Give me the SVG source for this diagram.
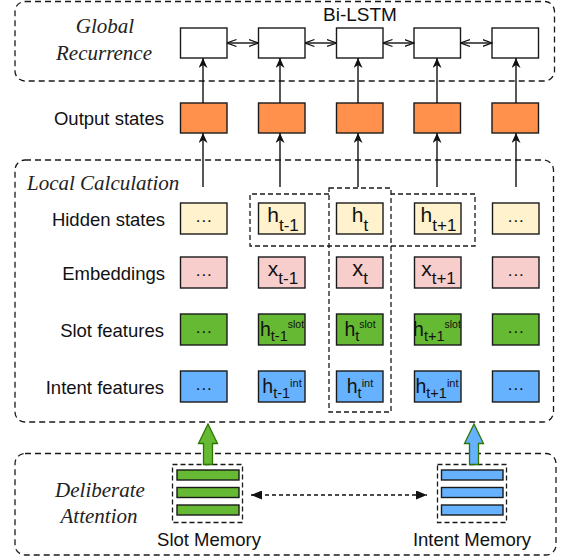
<svg xmlns="http://www.w3.org/2000/svg" width="563" height="560" viewBox="0 0 563 560">
<defs>
<style>
.grp{fill:none;stroke:#1a1a1a;stroke-width:1.3;stroke-dasharray:6 4}
.sgrp{fill:none;stroke:#1a1a1a;stroke-width:1.3;stroke-dasharray:5 3}
.box{stroke:#1a1a1a;stroke-width:1.4}
.lstm{fill:#ffffff}
.out{fill:#FF914D}
.hid{fill:#FFF2CC}
.emb{fill:#F8CECC}
.slot{fill:#66B933}
.int{fill:#66B2FF}
.lbl{font-family:"Liberation Sans",Arial,sans-serif;font-size:18.5px;fill:#111;text-anchor:end}
.ttl{font-family:"Liberation Serif","Times New Roman",serif;font-style:italic;font-size:21px;fill:#222}
.mem{font-family:"Liberation Sans",Arial,sans-serif;font-size:18.5px;fill:#111;text-anchor:middle}
.bt{font-family:"Liberation Sans",Arial,sans-serif;fill:#111;text-anchor:middle}
.dots{font-size:17px;letter-spacing:1px}
.line{fill:none;stroke:#111;stroke-width:1.4}
.dline{fill:none;stroke:#111;stroke-width:1.3;stroke-dasharray:4 3}
.blk{stroke:#2D7600;stroke-width:1.3}
</style>
<marker id="stealth" viewBox="0 0 10 9" refX="10" refY="4.5" markerWidth="10" markerHeight="9" markerUnits="userSpaceOnUse" orient="auto">
<path d="M0,0 L10,4.5 L0,9 L3,4.5 Z" fill="#111"/>
</marker>
<marker id="open" viewBox="0 0 10 10" refX="9.5" refY="5" markerWidth="10" markerHeight="10" markerUnits="userSpaceOnUse" orient="auto-start-reverse">
<path d="M0,1.5 L9.5,5 L0,8.5" fill="none" stroke="#111" stroke-width="1.3"/>
</marker>
<marker id="tri" viewBox="0 0 11 9" refX="11" refY="4.5" markerWidth="11" markerHeight="9" markerUnits="userSpaceOnUse" orient="auto-start-reverse">
<path d="M0,0 L11,4.5 L0,9 Z" fill="#111"/>
</marker>
</defs>

<g id="global-recurrence">
<rect class="grp" x="15" y="1.5" width="539.5" height="79.5" rx="10"/>
<text class="ttl" x="105" y="33" text-anchor="middle">Global</text>
<text class="ttl" x="104" y="60" text-anchor="middle">Recurrence</text>
<text x="360" y="21" font-family="Liberation Sans,Arial,sans-serif" font-size="19" fill="#111" text-anchor="middle">Bi-LSTM</text>
</g>

<g id="bilstm">
<rect class="box lstm" x="180.5" y="28" width="46.5" height="30"/>
<rect class="box lstm" x="258.5" y="28" width="46.5" height="30"/>
<rect class="box lstm" x="336.5" y="28" width="46.5" height="30"/>
<rect class="box lstm" x="414" y="28" width="46.5" height="30"/>
<rect class="box lstm" x="492" y="28" width="46.5" height="30"/>
</g>

<g id="output-states">
<text class="lbl" x="164" y="125">Output states</text>
<rect class="box out" x="180.5" y="103" width="46.5" height="30"/>
<rect class="box out" x="258.5" y="103" width="46.5" height="30"/>
<rect class="box out" x="336.5" y="103" width="46.5" height="30"/>
<rect class="box out" x="414" y="103" width="46.5" height="30"/>
<rect class="box out" x="492" y="103" width="46.5" height="30"/>
</g>

<g id="local-calculation">
<rect class="grp" x="15" y="160" width="538.5" height="262" rx="10"/>
<text class="ttl" x="27" y="190">Local Calculation</text>
</g>

<g id="hidden-states">
<text class="lbl" x="165" y="226">Hidden states</text>
<rect class="box hid" x="180.5" y="203" width="46.5" height="31"/>
<rect class="box hid" x="258.5" y="203" width="46.5" height="31"/>
<rect class="box hid" x="336.5" y="203" width="46.5" height="31"/>
<rect class="box hid" x="414.5" y="203" width="46.5" height="31"/>
<rect class="box hid" x="492.5" y="203" width="46.5" height="31"/>
<text class="bt dots" x="204.25" y="221.5">...</text>
<text class="bt" x="283" y="222" font-size="21">h<tspan dy="9" font-size="17">t-1</tspan></text>
<text class="bt" x="360" y="222" font-size="21">h<tspan dy="9" font-size="17">t</tspan></text>
<text class="bt" x="438.5" y="222" font-size="21">h<tspan dy="9" font-size="17">t+1</tspan></text>
<text class="bt dots" x="516.25" y="221.5">...</text>
</g>

<g id="embeddings">
<text class="lbl" x="165" y="280">Embeddings</text>
<rect class="box emb" x="180.5" y="257" width="46.5" height="31"/>
<rect class="box emb" x="258.5" y="257" width="46.5" height="31"/>
<rect class="box emb" x="336.5" y="257" width="46.5" height="31"/>
<rect class="box emb" x="414.5" y="257" width="46.5" height="31"/>
<rect class="box emb" x="492.5" y="257" width="46.5" height="31"/>
<text class="bt dots" x="204.25" y="275.5">...</text>
<text class="bt" x="283" y="275.5" font-size="21">x<tspan dy="8" font-size="17">t-1</tspan></text>
<text class="bt" x="360" y="275.5" font-size="22">x<tspan dy="8" font-size="17">t</tspan></text>
<text class="bt" x="438.5" y="275.5" font-size="21">x<tspan dy="8" font-size="17">t+1</tspan></text>
<text class="bt dots" x="516.25" y="275.5">...</text>
</g>

<g id="slot-features">
<text class="lbl" x="164" y="337">Slot features</text>
<rect class="box slot" x="180.5" y="314" width="46.5" height="31"/>
<rect class="box slot" x="258.5" y="314" width="46.5" height="31"/>
<rect class="box slot" x="336.5" y="314" width="46.5" height="31"/>
<rect class="box slot" x="414.5" y="314" width="46.5" height="31"/>
<rect class="box slot" x="492.5" y="314" width="46.5" height="31"/>
<text class="bt dots" x="204.25" y="332.5">...</text>
<text class="bt" x="282" y="335.5" font-size="19.5">h<tspan dy="5" font-size="14.5">t-1</tspan><tspan dy="-12.5" font-size="10.5">slot</tspan></text>
<text class="bt" x="360" y="335.5" font-size="19.5">h<tspan dy="5" font-size="14.5">t</tspan><tspan dy="-12.5" font-size="10.5">slot</tspan></text>
<text class="bt" x="437" y="335.5" font-size="19.5">h<tspan dy="5" font-size="14.5">t+1</tspan><tspan dy="-12.5" font-size="10.5">slot</tspan></text>
<text class="bt dots" x="516.25" y="332.5">...</text>
</g>

<g id="intent-features">
<text class="lbl" x="164" y="394">Intent features</text>
<rect class="box int" x="180.5" y="371" width="46.5" height="31"/>
<rect class="box int" x="258.5" y="371" width="46.5" height="31"/>
<rect class="box int" x="336.5" y="371" width="46.5" height="31"/>
<rect class="box int" x="414.5" y="371" width="46.5" height="31"/>
<rect class="box int" x="492.5" y="371" width="46.5" height="31"/>
<text class="bt dots" x="204.25" y="389.5">...</text>
<text class="bt" x="282" y="392.5" font-size="19.5">h<tspan dy="5" font-size="14.5">t-1</tspan><tspan dy="-11" font-size="11">int</tspan></text>
<text class="bt" x="360" y="392.5" font-size="19.5">h<tspan dy="5" font-size="14.5">t</tspan><tspan dy="-11" font-size="11">int</tspan></text>
<text class="bt" x="437" y="392.5" font-size="19.5">h<tspan dy="5" font-size="14.5">t+1</tspan><tspan dy="-11" font-size="11">int</tspan></text>
<text class="bt dots" x="516.25" y="389.5">...</text>
</g>

<g id="context-windows">
<path class="sgrp" d="M329,194 H250 V246 H475 V194 H391"/>
<rect class="sgrp" x="329" y="188" width="62" height="224"/>
</g>

<g id="deliberate-attention">
<rect class="grp" x="15" y="453.5" width="541" height="101.5" rx="10"/>
<text class="ttl" x="100" y="497" text-anchor="middle">Deliberate</text>
<text class="ttl" x="99" y="523" text-anchor="middle">Attention</text>
</g>

<g id="slot-memory">
<rect class="sgrp" x="172.5" y="464.5" width="70" height="58"/>
<rect class="box slot" x="177" y="470" width="62" height="10"/>
<rect class="box slot" x="177" y="487.5" width="62" height="10"/>
<rect class="box slot" x="177" y="505" width="62" height="10"/>
<text class="mem" x="209" y="546">Slot Memory</text>
</g>

<g id="intent-memory">
<rect class="sgrp" x="437.5" y="464.5" width="69" height="58"/>
<rect class="box int" x="441.5" y="470" width="61.5" height="10"/>
<rect class="box int" x="441.5" y="487.5" width="61.5" height="10"/>
<rect class="box int" x="441.5" y="505" width="61.5" height="10"/>
<text class="mem" x="472" y="546">Intent Memory</text>
</g>

<g id="connectors">
<line class="line" x1="227" y1="43" x2="258.5" y2="43" marker-start="url(#open)" marker-end="url(#open)"/>
<line class="line" x1="305" y1="43" x2="336.5" y2="43" marker-start="url(#open)" marker-end="url(#open)"/>
<line class="line" x1="383" y1="43" x2="414" y2="43" marker-start="url(#open)" marker-end="url(#open)"/>
<line class="line" x1="460.5" y1="43" x2="492" y2="43" marker-start="url(#open)" marker-end="url(#open)"/>

<line class="line" x1="203" y1="103" x2="203" y2="58" marker-end="url(#stealth)"/>
<line class="line" x1="280" y1="103" x2="280" y2="58" marker-end="url(#stealth)"/>
<line class="line" x1="358" y1="103" x2="358" y2="58" marker-end="url(#stealth)"/>
<line class="line" x1="437" y1="103" x2="437" y2="58" marker-end="url(#stealth)"/>
<line class="line" x1="516" y1="103" x2="516" y2="58" marker-end="url(#stealth)"/>

<line class="line" x1="203" y1="187" x2="203" y2="133" marker-end="url(#stealth)"/>
<line class="line" x1="280" y1="187" x2="280" y2="133" marker-end="url(#stealth)"/>
<line class="line" x1="358" y1="187" x2="358" y2="133" marker-end="url(#stealth)"/>
<line class="line" x1="437" y1="187" x2="437" y2="133" marker-end="url(#stealth)"/>
<line class="line" x1="516" y1="187" x2="516" y2="133" marker-end="url(#stealth)"/>

<line class="dline" x1="251" y1="495" x2="427" y2="495" marker-start="url(#tri)" marker-end="url(#tri)"/>

<path class="blk" fill="#66B933" d="M208,424 L217.5,443.5 L212.5,443.5 L212.5,464.5 L203.5,464.5 L203.5,443.5 L198.5,443.5 Z"/>
<path class="blk" fill="#66B2FF" d="M474,424 L483.5,443.5 L478.5,443.5 L478.5,464.5 L469.5,464.5 L469.5,443.5 L464.5,443.5 Z"/>
</g>
</svg>
